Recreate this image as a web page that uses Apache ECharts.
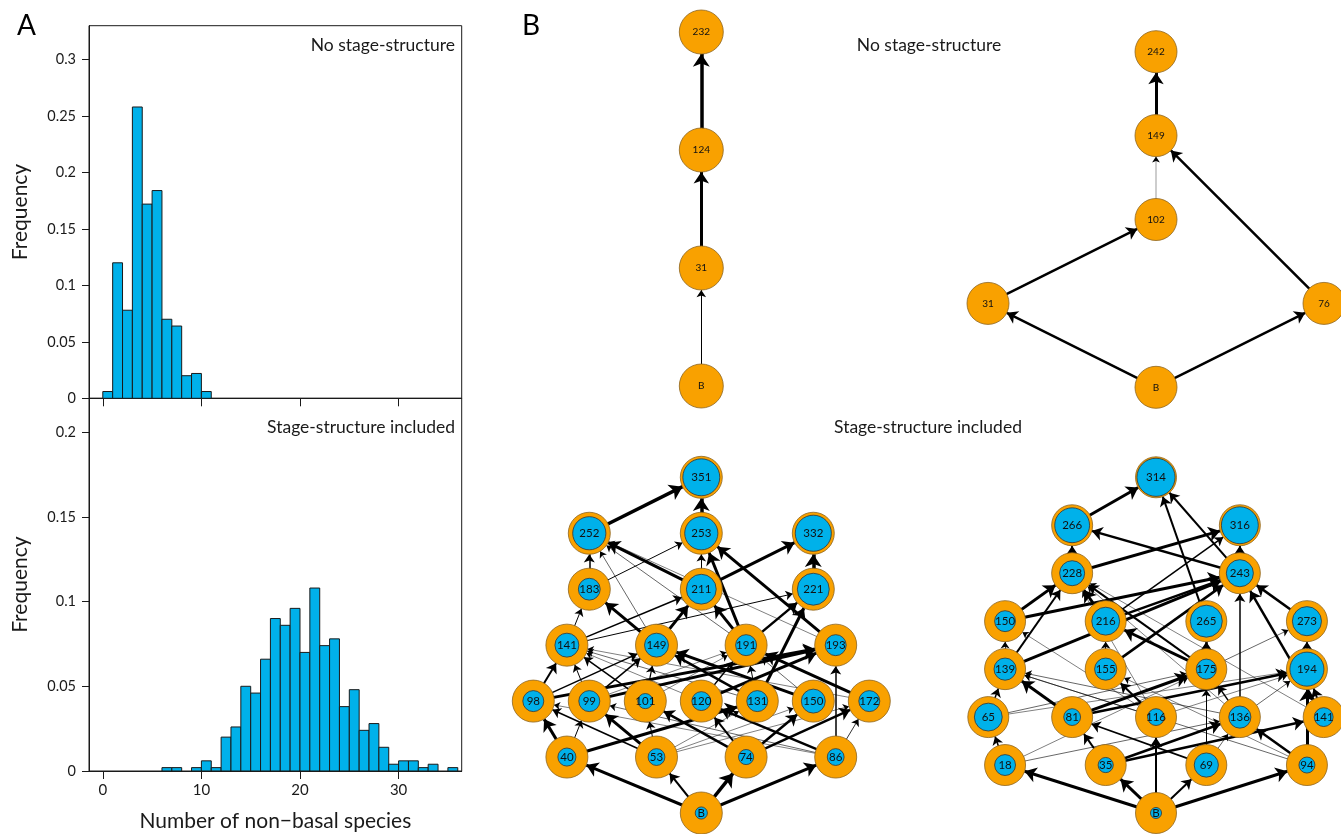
<!DOCTYPE html>
<html>
<head>
<meta charset="utf-8">
<style>
  html, body { margin: 0; padding: 0; background: #fff; }
  #main { width: 1341px; height: 834px; }
</style>
<script src="https://cdn.jsdelivr.net/npm/echarts@6/dist/echarts.min.js"></script>
</head>
<body>
<div id="main"></div>
<script>
// ---- panel A: histograms, each bin is [start, start + 1) ----
const noStageBins = [0, 1, 2, 3, 4, 5, 6, 7, 8, 9, 10];
const noStageFreq = [0.006, 0.12, 0.078, 0.258, 0.172, 0.184, 0.07, 0.064, 0.02, 0.022, 0.006];

const stageBins = [6, 7, 8, 9, 10, 11, 12, 13, 14, 15, 16, 17, 18, 19, 20,
                   21, 22, 23, 24, 25, 26, 27, 28, 29, 30, 31, 32, 33, 34, 35];
const stageFreq = [0.002, 0.002, 0, 0.002, 0.006, 0.002, 0.02, 0.026, 0.05, 0.046, 0.066, 0.09, 0.086, 0.096, 0.07,
                   0.108, 0.074, 0.078, 0.038, 0.048, 0.024, 0.028, 0.014, 0.004, 0.006, 0.006, 0.002, 0.004, 0, 0.002];

const xTicks = [0, 10, 20, 30];
const yTicksTop = [0, 0.05, 0.1, 0.15, 0.2, 0.25, 0.3];
const yTicksBottom = [0, 0.05, 0.1, 0.15, 0.2];

// ---- panel B: food webs (column position, trophic level) ----
// no stage-structure, web 1
const web1Names = ['B', '31', '124', '232'];
const web1Col = [0, 0, 0, 0];
const web1Level = [0, 1, 2, 3];
const web1Links = [['B', '31', 1], ['31', '124', 3], ['124', '232', 3.5]];

// no stage-structure, web 2
const web2Names = ['B', '31', '76', '102', '149', '242'];
const web2Col = [0, -2, 2, 0, 0, 0];
const web2Level = [0, 1, 1, 2, 3, 4];
const web2Links = [['B', '31', 2.5], ['B', '76', 2.5], ['31', '102', 2.5], ['76', '149', 2.5],
                   ['102', '149', 0.4], ['149', '242', 3]];

// stage-structure included, web 3 (inner = share of blue disc)
const web3Names = ['B', '40', '53', '74', '86', '98', '99', '101', '120', '131', '150', '172',
                   '141', '149', '191', '193', '183', '211', '221', '252', '253', '332', '351'];
const web3Col = [0, -2.4, -0.8, 0.8, 2.4, -3, -2, -1, 0, 1, 2, 3,
                 -2.4, -0.8, 0.8, 2.4, -2, 0, 2, -2, 0, 2, 0];
const web3Level = [0, 1, 1, 1, 1, 2, 2, 2, 2, 2, 2, 2,
                   3, 3, 3, 3, 4, 4, 4, 5, 5, 5, 6];
const web3Inner = [0.29, 0.43, 0.4, 0.36, 0.4, 0.5, 0.5, 0.36, 0.45, 0.5, 0.57, 0.5,
                   0.57, 0.57, 0.5, 0.5, 0.52, 0.71, 0.76, 0.79, 0.79, 0.86, 0.88];
const web3Links = [
  ['B', '40', 3], ['B', '53', 2], ['B', '74', 3.5], ['B', '86', 3],
  ['40', '98', 3], ['40', '99', 1], ['40', '131', 3],
  ['53', '98', 1.5], ['53', '99', 3], ['53', '101', 1], ['53', '150', 0.5], ['53', '172', 0.5], ['53', '131', 0.5],
  ['74', '101', 2.5], ['74', '120', 2], ['74', '150', 2.5], ['74', '172', 2.5],
  ['86', '120', 2.5], ['86', '193', 1.5], ['86', '172', 0.8], ['86', '99', 0.6], ['86', '98', 0.5],
  ['98', '141', 2], ['98', '149', 1.5], ['98', '193', 3],
  ['99', '141', 1], ['99', '149', 1.5], ['99', '193', 3], ['99', '191', 0.5],
  ['101', '141', 1.5], ['101', '149', 1.2], ['101', '191', 0.5],
  ['120', '193', 3], ['120', '191', 1.5], ['120', '141', 0.5],
  ['131', '149', 2.5], ['131', '191', 1], ['131', '221', 3], ['131', '141', 0.6],
  ['150', '149', 3], ['150', '191', 0.6], ['172', '191', 3], ['172', '141', 0.5],
  ['141', '183', 1], ['141', '211', 1.5], ['141', '221', 1],
  ['149', '183', 3], ['149', '211', 3], ['149', '252', 0.6],
  ['191', '211', 3], ['191', '221', 2.5], ['191', '253', 3], ['191', '252', 0.6],
  ['193', '253', 3], ['193', '252', 0.5],
  ['183', '252', 1.5], ['183', '253', 1],
  ['211', '252', 3], ['211', '253', 1], ['211', '332', 3],
  ['221', '332', 3.5], ['252', '351', 3.5], ['253', '351', 3.5]
];

// stage-structure included, web 4
const web4Names = ['B', '18', '35', '69', '94', '65', '81', '116', '136', '141',
                   '139', '155', '175', '194', '150', '216', '265', '273', '228', '243', '266', '316', '314'];
const web4Col = [0, -1.8, -0.6, 0.6, 1.8, -2, -1, 0, 1, 2,
                 -1.8, -0.6, 0.6, 1.8, -1.8, -0.6, 0.6, 1.8, -1, 1, -1, 1, 0];
const web4Level = [0, 1, 1, 1, 1, 2, 2, 2, 2, 2,
                   3, 3, 3, 3, 4, 4, 4, 4, 5, 5, 6, 6, 7];
const web4Inner = [0.27, 0.51, 0.37, 0.59, 0.39, 0.68, 0.41, 0.41, 0.54, 0.46,
                   0.54, 0.54, 0.49, 0.83, 0.51, 0.68, 0.78, 0.71, 0.61, 0.66, 0.85, 0.9, 0.93];
const web4Links = [
  ['B', '18', 3], ['B', '35', 3], ['B', '116', 2], ['B', '69', 2], ['B', '94', 3],
  ['18', '65', 1.5], ['18', '136', 0.6], ['18', '175', 0.5],
  ['35', '81', 2], ['35', '136', 2.5], ['35', '141', 2.5],
  ['69', '81', 1.8], ['69', '175', 1], ['69', '136', 0.6],
  ['94', '136', 2.5], ['94', '194', 3], ['94', '139', 0.6], ['94', '155', 0.5],
  ['65', '139', 1.5], ['65', '175', 0.6], ['65', '194', 0.5],
  ['81', '139', 3], ['81', '175', 3], ['81', '194', 2.5],
  ['116', '155', 2], ['116', '139', 0.6], ['116', '194', 0.5], ['116', '150', 0.5], ['116', '228', 0.5],
  ['136', '175', 1.5], ['136', '194', 0.6], ['136', '243', 1.5], ['136', '139', 0.6], ['136', '228', 0.5],
  ['141', '194', 2], ['141', '243', 2.5], ['141', '228', 0.5],
  ['139', '150', 0.8], ['139', '228', 2], ['139', '243', 3],
  ['155', '243', 2.5], ['155', '216', 1],
  ['175', '228', 2], ['175', '216', 3], ['175', '265', 2.5], ['175', '273', 0.6],
  ['194', '273', 1.5],
  ['150', '228', 3], ['150', '243', 3],
  ['216', '228', 3], ['216', '243', 2.5], ['216', '316', 1.5],
  ['265', '314', 2], ['273', '243', 2.5],
  ['228', '266', 2], ['228', '316', 3],
  ['243', '266', 2.5], ['243', '316', 2], ['243', '314', 2],
  ['266', '314', 3]
];

const ORANGE = '#f9a100';
const BLUE = '#00b1ea';
const INK = '#1a1a1a';
const FONT = 'Lato';

const chart = echarts.init(document.getElementById('main'), null, { renderer: 'canvas' });

function histSeries(idx, bins, freq) {
  return {
    type: 'custom',
    xAxisIndex: idx,
    yAxisIndex: idx,
    data: bins.map((b, i) => [b, freq[i]]),
    renderItem: function (params, api) {
      const x0 = api.value(0);
      const f = api.value(1);
      if (!f) return null;
      const p0 = api.coord([x0, f]);
      const p1 = api.coord([x0 + 1, 0]);
      return {
        type: 'rect',
        shape: { x: p0[0], y: p0[1], width: p1[0] - p0[0], height: p1[1] - p0[1] },
        style: { fill: BLUE, stroke: INK, lineWidth: 1 }
      };
    },
    silent: true
  };
}

function histX(idx, withLabels) {
  return {
    gridIndex: idx, type: 'value', min: -1.4, max: 36.4,
    axisLine: { show: true, onZero: false, lineStyle: { color: INK, width: 1 } },
    axisTick: { show: true, customValues: xTicks, length: 8, lineStyle: { color: INK } },
    axisLabel: { show: withLabels, customValues: xTicks, margin: 12, fontSize: 15, color: INK, fontFamily: FONT },
    splitLine: { show: false },
    name: withLabels ? 'Number of non\u2212basal species' : '',
    nameLocation: 'middle', nameGap: 40,
    nameTextStyle: { fontSize: 21, color: INK, fontFamily: FONT }
  };
}

function histY(idx, max, ticks) {
  return {
    gridIndex: idx, type: 'value', min: 0, max: max,
    axisLine: { show: true, onZero: false, lineStyle: { color: INK, width: 1 } },
    axisTick: { show: true, customValues: ticks, length: 7, lineStyle: { color: INK } },
    axisLabel: { customValues: ticks, margin: 13, fontSize: 14.5, color: INK, fontFamily: FONT },
    splitLine: { show: false },
    name: 'Frequency', nameLocation: 'middle', nameGap: 58,
    nameTextStyle: { fontSize: 21, color: INK, fontFamily: FONT }
  };
}

function webSeries(idx, names, cols, levels, links, size, withLabels) {
  return {
    type: 'graph',
    coordinateSystem: 'cartesian2d',
    xAxisIndex: idx,
    yAxisIndex: idx,
    symbol: 'circle',
    symbolSize: size,
    edgeSymbol: ['none', 'arrow'],
    data: names.map((n, i) => ({ name: n, value: [cols[i], levels[i]] })),
    links: links.map(l => ({
      source: l[0], target: l[1],
      lineStyle: { width: l[2] },
      symbolSize: [0, 5 + l[2] * 2.2]
    })),
    itemStyle: { color: ORANGE, borderColor: '#8d6420', borderWidth: 0.8 },
    lineStyle: { color: '#000', opacity: 1, curveness: 0 },
    label: { show: withLabels, position: 'inside', formatter: '{b}', fontSize: 10, color: '#111', fontFamily: FONT },
    emphasis: { disabled: true },
    silent: true,
    z: 2
  };
}

function innerSeries(idx, names, cols, levels, inner, size) {
  return {
    type: 'scatter',
    xAxisIndex: idx,
    yAxisIndex: idx,
    data: names.map((n, i) => ({ name: n, value: [cols[i], levels[i], inner[i]] })),
    symbolSize: v => v[2] * size,
    itemStyle: { color: BLUE, borderColor: '#333', borderWidth: 0.8, opacity: 1 },
    label: { show: true, position: 'inside', formatter: '{b}', fontSize: 11.5, color: '#111', fontFamily: FONT },
    emphasis: { disabled: true },
    silent: true,
    z: 3
  };
}

function hidden(idx, min, max) {
  return { gridIndex: idx, type: 'value', min: min, max: max, show: false, splitLine: { show: false } };
}

const option = {
  animation: false,
  backgroundColor: '#fff',
  textStyle: { fontFamily: FONT },
  grid: [
    { left: 89, top: 25.7, width: 372.7, height: 372.6, show: true, borderColor: INK, borderWidth: 1 },
    { left: 89, top: 398.3, width: 372.7, height: 372.7, show: true, borderColor: INK, borderWidth: 1 },
    { left: 617.3, top: 32, width: 168, height: 354 },
    { left: 988, top: 51.7, width: 336, height: 335.6 },
    { left: 533.3, top: 477.3, width: 336, height: 335.7 },
    { left: 988.3, top: 477.3, width: 335.4, height: 335.7 }
  ],
  xAxis: [
    histX(0, false), histX(1, true),
    hidden(2, -1, 1), hidden(3, -2, 2), hidden(4, -3, 3), hidden(5, -2, 2)
  ],
  yAxis: [
    histY(0, 0.33, yTicksTop), histY(1, 0.22, yTicksBottom),
    hidden(2, 0, 3), hidden(3, 0, 4), hidden(4, 0, 6), hidden(5, 0, 7)
  ],
  series: [
    histSeries(0, noStageBins, noStageFreq),
    histSeries(1, stageBins, stageFreq),
    webSeries(2, web1Names, web1Col, web1Level, web1Links, 44, true),
    webSeries(3, web2Names, web2Col, web2Level, web2Links, 42, true),
    webSeries(4, web3Names, web3Col, web3Level, web3Links, 42, false),
    innerSeries(4, web3Names, web3Col, web3Level, web3Inner, 42),
    webSeries(5, web4Names, web4Col, web4Level, web4Links, 41, false),
    innerSeries(5, web4Names, web4Col, web4Level, web4Inner, 41)
  ],
  graphic: [
    { type: 'text', left: 17, top: 12, style: { text: 'A', font: '28px ' + FONT, fill: '#000' } },
    { type: 'text', left: 522, top: 12, style: { text: 'B', font: '28px ' + FONT, fill: '#000' } },
    { type: 'text', x: 455, y: 45, style: { text: 'No stage-structure', font: '17.5px ' + FONT, fill: INK, align: 'right', verticalAlign: 'middle' } },
    { type: 'text', x: 455, y: 427, style: { text: 'Stage-structure included', font: '17.5px ' + FONT, fill: INK, align: 'right', verticalAlign: 'middle' } },
    { type: 'text', x: 929, y: 45, style: { text: 'No stage-structure', font: '17.5px ' + FONT, fill: INK, align: 'center', verticalAlign: 'middle' } },
    { type: 'text', x: 928, y: 427, style: { text: 'Stage-structure included', font: '17.5px ' + FONT, fill: INK, align: 'center', verticalAlign: 'middle' } }
  ]
};

chart.setOption(option);
</script>
</body>
</html>
